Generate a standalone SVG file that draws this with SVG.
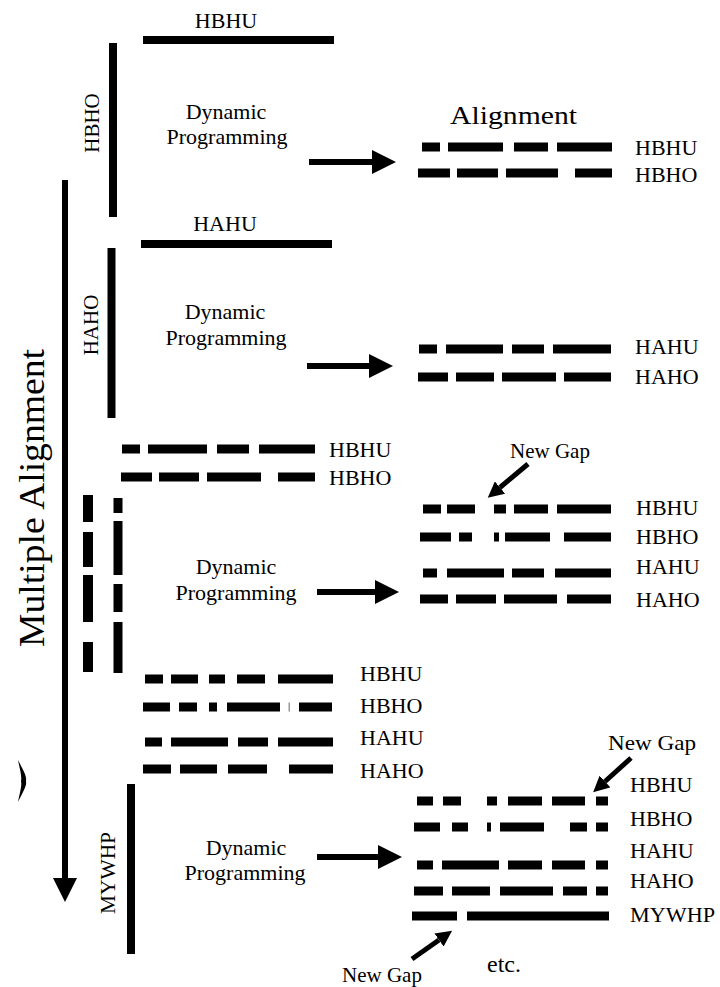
<svg xmlns="http://www.w3.org/2000/svg" width="720" height="987" viewBox="0 0 720 987">
<style>
.t{font-family:"Liberation Serif","Times New Roman",serif;fill:#000}
.lab{font-size:22px}
.dp{font-size:22px;text-anchor:middle}
.mid{text-anchor:middle}
.k{fill:#000}
.ln{stroke:#000;stroke-width:6;fill:none}
.gl{stroke:#000;stroke-width:5;fill:none}
</style>
<defs>
<marker id="big" markerUnits="userSpaceOnUse" viewBox="0 0 24 24" refX="0" refY="12" markerWidth="24" markerHeight="24" orient="auto"><path d="M0,0 L24,12 L0,24 Z" fill="#000"/></marker>
<marker id="small" markerUnits="userSpaceOnUse" viewBox="0 0 16 16" refX="0" refY="8" markerWidth="16" markerHeight="16" orient="auto"><path d="M0,0 L16,8 L0,16 Z" fill="#000"/></marker>
</defs>
<rect width="720" height="987" fill="#fff"/>

<g id="multiple-alignment">
<text class="t mid" font-size="36" textLength="298" lengthAdjust="spacingAndGlyphs" transform="translate(44,498) rotate(-90)">Multiple Alignment</text>
<path d="M18,760 C23,770 27,776 26,781 C27,786 23,792 18,802 C20,792 22,786 21,781 C22,776 20,770 18,760 Z" fill="#000"/>
</g>

<g id="sec1-hbhu">
<text class="t lab mid" x="226" y="28">HBHU</text>
<rect class="k" x="143" y="36" width="191" height="8"/>
</g>
<g id="sec1-hbho">
<text class="t mid" font-size="21" transform="translate(99,123) rotate(-90)">HBHO</text>
<rect class="k" x="109" y="43" width="8" height="174"/>
</g>
<g id="sec1-dp">
<text class="t dp" x="226" y="119">Dynamic</text>
<text class="t dp" x="227" y="144">Programming</text>
</g>
<g id="sec1-result">
<text class="t" x="450" y="124" font-size="26" textLength="127" lengthAdjust="spacingAndGlyphs">Alignment</text>
<rect class="k" x="422" y="142.5" width="18" height="9"/><rect class="k" x="448" y="142.5" width="55" height="9"/><rect class="k" x="514" y="142.5" width="34" height="9"/><rect class="k" x="557" y="142.5" width="55" height="9"/>
<rect class="k" x="418" y="168.5" width="32" height="9"/><rect class="k" x="457" y="168.5" width="41" height="9"/><rect class="k" x="506" y="168.5" width="52" height="9"/><rect class="k" x="575" y="168.5" width="37" height="9"/>
<text class="t lab" x="635" y="155">HBHU</text>
<text class="t lab" x="635" y="182">HBHO</text>
</g>

<g id="sec2-hahu">
<text class="t lab mid" x="225" y="231">HAHU</text>
<rect class="k" x="141" y="240" width="191" height="8"/>
</g>
<g id="sec2-haho">
<text class="t mid" font-size="21" transform="translate(98,325) rotate(-90)">HAHO</text>
<rect class="k" x="107.5" y="248" width="8" height="170"/>
</g>
<g id="sec2-dp">
<text class="t dp" x="225" y="319">Dynamic</text>
<text class="t dp" x="226" y="345">Programming</text>
</g>
<g id="sec2-result">
<rect class="k" x="419" y="344.5" width="18" height="9"/><rect class="k" x="446" y="344.5" width="57" height="9"/><rect class="k" x="512" y="344.5" width="32" height="9"/><rect class="k" x="553" y="344.5" width="58" height="9"/>
<rect class="k" x="418" y="372.5" width="30" height="9"/><rect class="k" x="456" y="372.5" width="38" height="9"/><rect class="k" x="502" y="372.5" width="54" height="9"/><rect class="k" x="564" y="372.5" width="47" height="9"/>
<text class="t lab" x="635" y="354">HAHU</text>
<text class="t lab" x="635" y="384">HAHO</text>
</g>

<g id="sec3-input">
<rect class="k" x="122" y="444.5" width="18" height="9"/><rect class="k" x="148" y="444.5" width="59" height="9"/><rect class="k" x="217" y="444.5" width="32" height="9"/><rect class="k" x="259" y="444.5" width="56" height="9"/>
<rect class="k" x="121" y="472.5" width="31" height="9"/><rect class="k" x="159" y="472.5" width="40" height="9"/><rect class="k" x="207" y="472.5" width="54" height="9"/><rect class="k" x="278" y="472.5" width="37" height="9"/>
<text class="t lab" x="329" y="457">HBHU</text>
<text class="t lab" x="329" y="485">HBHO</text>
</g>
<g id="sec3-vertical">
<rect class="k" x="83" y="495" width="10" height="27"/><rect class="k" x="83" y="532" width="10" height="35"/><rect class="k" x="83" y="575" width="10" height="47"/><rect class="k" x="83" y="642" width="10" height="30"/>
<rect class="k" x="113.5" y="498" width="9" height="15"/><rect class="k" x="113.5" y="521" width="9" height="54"/><rect class="k" x="113.5" y="584" width="9" height="28"/><rect class="k" x="113.5" y="622" width="9" height="51"/>
</g>
<g id="sec3-dp">
<text class="t dp" x="236" y="574">Dynamic</text>
<text class="t dp" x="236" y="600">Programming</text>
</g>
<g id="sec3-result">
<text class="t" x="510" y="458" font-size="21">New Gap</text>
<rect class="k" x="423" y="504.5" width="18" height="9"/><rect class="k" x="447" y="504.5" width="28" height="9"/><rect class="k" x="494" y="504.5" width="12" height="9"/><rect class="k" x="514" y="504.5" width="34" height="9"/><rect class="k" x="557" y="504.5" width="54" height="9"/>
<rect class="k" x="420" y="532.5" width="31" height="9"/><rect class="k" x="459" y="532.5" width="13" height="9"/><rect class="k" x="494" y="532.5" width="5" height="9"/><rect class="k" x="505" y="532.5" width="45" height="9"/><rect class="k" x="564" y="532.5" width="47" height="9"/>
<rect class="k" x="423" y="568.5" width="14" height="9"/><rect class="k" x="447" y="568.5" width="57" height="9"/><rect class="k" x="512" y="568.5" width="32" height="9"/><rect class="k" x="555" y="568.5" width="56" height="9"/>
<rect class="k" x="420" y="594.5" width="28" height="9"/><rect class="k" x="456" y="594.5" width="40" height="9"/><rect class="k" x="504" y="594.5" width="53" height="9"/><rect class="k" x="567" y="594.5" width="44" height="9"/>
<text class="t lab" x="636" y="515">HBHU</text>
<text class="t lab" x="636" y="544">HBHO</text>
<text class="t lab" x="636" y="574">HAHU</text>
<text class="t lab" x="636" y="607">HAHO</text>
</g>

<g id="sec4-input">
<rect class="k" x="145" y="674.5" width="18" height="9"/><rect class="k" x="171" y="674.5" width="27" height="9"/><rect class="k" x="209" y="674.5" width="16" height="9"/><rect class="k" x="237" y="674.5" width="28" height="9"/><rect class="k" x="278" y="674.5" width="55" height="9"/>
<rect class="k" x="143" y="702.5" width="27" height="9"/><rect class="k" x="179" y="702.5" width="18" height="9"/><rect class="k" x="209" y="702.5" width="8" height="9"/><rect class="k" x="227" y="702.5" width="53" height="9"/><rect x="288.5" y="702.5" width="1.5" height="9" fill="#999"/><rect class="k" x="299" y="702.5" width="33" height="9"/>
<rect class="k" x="145" y="737.5" width="17" height="9"/><rect class="k" x="171" y="737.5" width="57" height="9"/><rect class="k" x="238" y="737.5" width="30" height="9"/><rect class="k" x="278" y="737.5" width="55" height="9"/>
<rect class="k" x="143" y="764.5" width="28" height="9"/><rect class="k" x="180" y="764.5" width="37" height="9"/><rect class="k" x="228" y="764.5" width="39" height="9"/><rect class="k" x="289" y="764.5" width="44" height="9"/>
<text class="t lab" x="360" y="681">HBHU</text>
<text class="t lab" x="360" y="713">HBHO</text>
<text class="t lab" x="360" y="745">HAHU</text>
<text class="t lab" x="360" y="778">HAHO</text>
</g>
<g id="sec4-mywhp">
<text class="t mid" font-size="21" textLength="82" lengthAdjust="spacingAndGlyphs" transform="translate(115,873) rotate(-90)">MYWHP</text>
<rect class="k" x="127" y="784" width="8" height="170"/>
</g>
<g id="sec4-dp">
<text class="t dp" x="246" y="855">Dynamic</text>
<text class="t dp" x="245" y="880">Programming</text>
</g>
<g id="sec4-result">
<text class="t" x="608" y="750" font-size="21" textLength="88" lengthAdjust="spacingAndGlyphs">New Gap</text>
<rect class="k" x="417" y="796.5" width="16" height="9"/><rect class="k" x="443" y="796.5" width="18" height="9"/><rect class="k" x="487" y="796.5" width="10" height="9"/><rect class="k" x="508" y="796.5" width="34" height="9"/><rect class="k" x="552" y="796.5" width="33" height="9"/><rect class="k" x="596" y="796.5" width="12" height="9"/>
<rect class="k" x="414" y="822.5" width="26" height="9"/><rect class="k" x="452" y="822.5" width="16" height="9"/><rect class="k" x="487" y="822.5" width="4" height="9"/><rect class="k" x="500" y="822.5" width="44" height="9"/><rect class="k" x="570" y="822.5" width="17" height="9"/><rect class="k" x="596" y="822.5" width="12" height="9"/>
<rect class="k" x="417" y="860.5" width="16" height="9"/><rect class="k" x="442" y="860.5" width="57" height="9"/><rect class="k" x="508" y="860.5" width="34" height="9"/><rect class="k" x="552" y="860.5" width="33" height="9"/><rect class="k" x="596" y="860.5" width="12" height="9"/>
<rect class="k" x="414" y="886.5" width="29" height="9"/><rect class="k" x="452" y="886.5" width="38" height="9"/><rect class="k" x="500" y="886.5" width="53" height="9"/><rect class="k" x="563" y="886.5" width="24" height="9"/><rect class="k" x="596" y="886.5" width="12" height="9"/>
<rect class="k" x="412" y="911.5" width="45" height="9"/><rect class="k" x="467" y="911.5" width="142" height="9"/>
<text class="t lab" x="630" y="792">HBHU</text>
<text class="t lab" x="630" y="826">HBHO</text>
<text class="t lab" x="630" y="858">HAHU</text>
<text class="t lab" x="630" y="888">HAHO</text>
<text class="t lab" x="630" y="922" textLength="85" lengthAdjust="spacingAndGlyphs">MYWHP</text>
<text class="t" x="342" y="982" font-size="21">New Gap</text>
<text class="t" x="487" y="972" font-size="24">etc.</text>
</g>

<g id="connectors">
<line class="ln" x1="65" y1="180" x2="65" y2="878" marker-end="url(#big)"/>
<line class="ln" x1="309" y1="162" x2="372" y2="162" marker-end="url(#big)"/>
<line class="ln" x1="307" y1="366" x2="369" y2="366" marker-end="url(#big)"/>
<line class="ln" x1="317" y1="592" x2="375" y2="592" marker-end="url(#big)"/>
<line class="ln" x1="317" y1="857" x2="378" y2="857" marker-end="url(#big)"/>
<line class="gl" x1="528" y1="464" x2="500" y2="487.5" marker-end="url(#small)"/>
<line class="gl" x1="631" y1="758" x2="605" y2="781.5" marker-end="url(#small)"/>
<line class="gl" x1="412" y1="959" x2="439" y2="940" marker-end="url(#small)"/>
</g>
</svg>
